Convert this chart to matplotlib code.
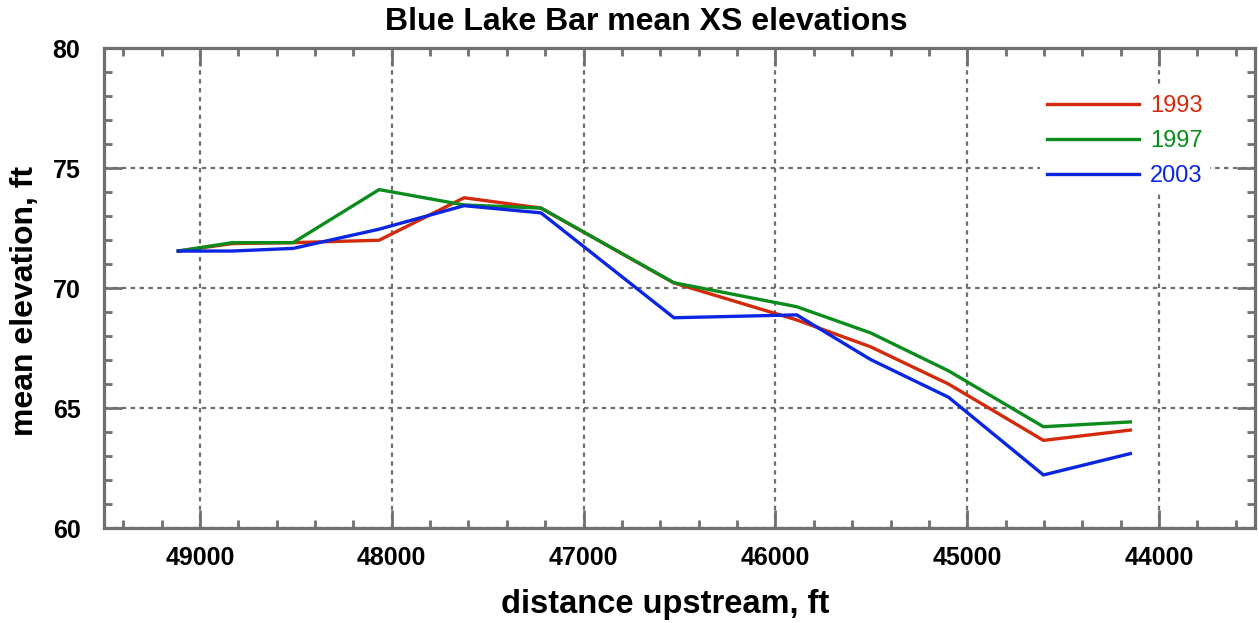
import numpy as np
import matplotlib.pyplot as plt
from matplotlib.ticker import MultipleLocator

# cross-section stations (ft upstream) and mean bed elevations (ft)
distance = [49113, 48832, 48514, 48066, 47623, 47222, 46529, 45889, 45504, 45098, 44603, 44150]
elev_1993 = [71.54, 71.85, 71.89, 71.99, 73.76, 73.33, 70.21, 68.67, 67.55, 66.00, 63.65, 64.08]
elev_1997 = [71.54, 71.89, 71.89, 74.10, 73.46, 73.33, 70.22, 69.22, 68.13, 66.55, 64.22, 64.42]
elev_2003 = [71.54, 71.54, 71.65, 72.45, 73.43, 73.13, 68.76, 68.88, 67.02, 65.45, 62.21, 63.10]

years = ["1993", "1997", "2003"]
colors = ["#d42a0c", "#0b8c1c", "#0a26e0"]

plt.rcParams['font.family'] = ['Liberation Sans', 'DejaVu Sans']

W, H = 1259, 623
fig = plt.figure(figsize=(W / 100, H / 100), dpi=100)
ax = fig.add_axes([104 / W, 1 - 528 / H, 1151 / W, 480 / H])

for y, c, lab in zip([elev_1993, elev_1997, elev_2003], colors, years):
    ax.plot(distance, y, color=c, lw=2.4, label=lab)

ax.set_xlim(49500, 43500)
ax.set_ylim(60, 80)

ax.xaxis.set_major_locator(MultipleLocator(1000))
ax.xaxis.set_minor_locator(MultipleLocator(200))
ax.yaxis.set_major_locator(MultipleLocator(5))
ax.yaxis.set_minor_locator(MultipleLocator(1))

gray = "#707070"
ax.grid(True, which="major", color=gray, ls=(0, (2, 2)), lw=1.6)
for s in ax.spines.values():
    s.set_color(gray)
    s.set_linewidth(2.3)
ax.tick_params(which="both", direction="in", top=True, right=True, color=gray, width=2)
ax.tick_params(which="major", length=13, labelsize=18)
ax.tick_params(axis="x", which="major", pad=13)
ax.tick_params(axis="y", which="major", pad=17)
ax.tick_params(which="minor", length=6)
for lbl in ax.get_xticklabels() + ax.get_yticklabels():
    lbl.set_fontweight("bold")

# title and axis labels placed in figure pixels
fig.text(646 / W, 1 - 30 / H, "Blue Lake Bar mean XS elevations",
         ha="center", va="baseline", fontsize=23, fontweight="bold")
fig.text(665 / W, 1 - 613 / H, "distance upstream, ft",
         ha="center", va="baseline", fontsize=23.5, fontweight="bold")
fig.text(25 / W, 1 - 301 / H, "mean elevation, ft", rotation=90,
         ha="center", va="center", fontsize=23, fontweight="bold")

leg = ax.legend(loc="upper left", bbox_to_anchor=(0.813, 0.917), frameon=True,
                fontsize=17, handlelength=3.9, handletextpad=0.47, labelspacing=0.55,
                borderpad=0.3, borderaxespad=0)
leg.get_frame().set_edgecolor("none")
leg.get_frame().set_facecolor("white")
leg.get_frame().set_alpha(1)
for txt, c in zip(leg.get_texts(), colors):
    txt.set_color(c)

fig.savefig("out.png", dpi=100)
